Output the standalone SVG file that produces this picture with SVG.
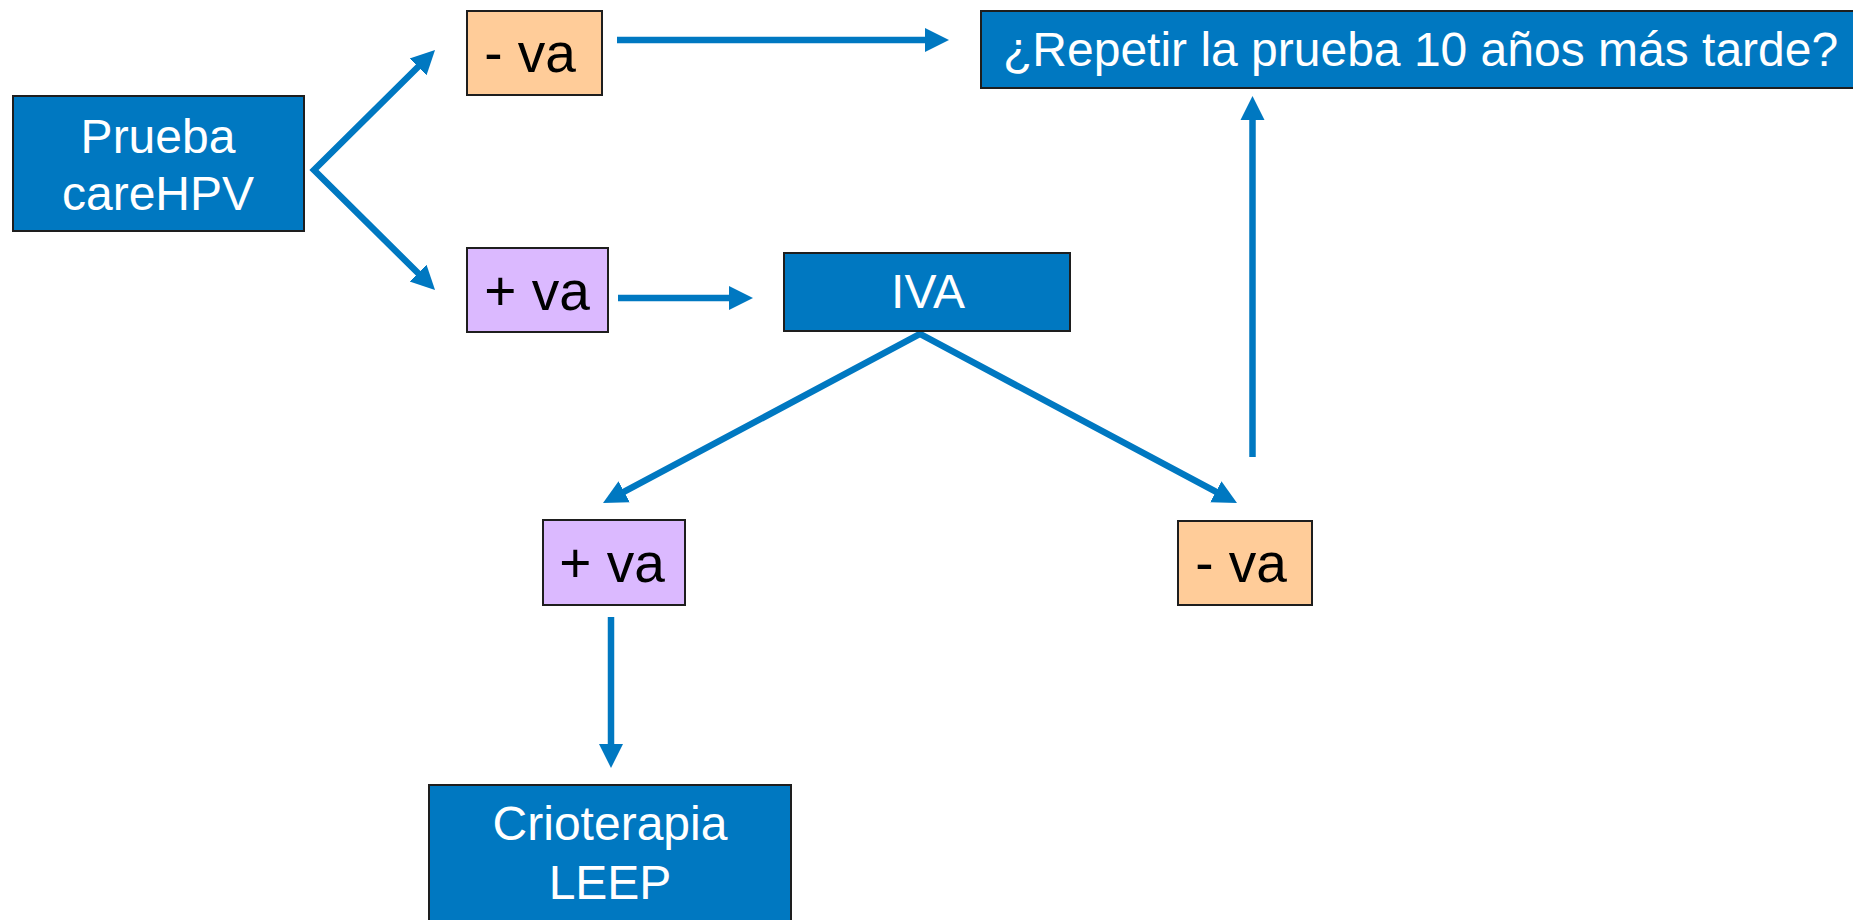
<svg xmlns="http://www.w3.org/2000/svg" width="1853" height="920" viewBox="0 0 1853 920">
  <style>
    .box { stroke: #1e1e1e; stroke-width: 2; }
    .blue { fill: #0078C1; }
    .neg { fill: #FFCC99; }
    .pos { fill: #DBB9FF; }
    .wt { font-family: "Liberation Sans", Arial, sans-serif; font-size: 48px; fill: #ffffff; text-anchor: middle; }
    .bt { font-family: "Liberation Sans", Arial, sans-serif; font-size: 55px; fill: #000000; text-anchor: middle; }
    .conn { fill: none; stroke: #0078C1; stroke-width: 6.5; stroke-linejoin: miter; stroke-miterlimit: 10; marker-end: url(#arr); }
  </style>
  <defs>
    <marker id="arr" markerUnits="userSpaceOnUse" markerWidth="26" markerHeight="26" refX="1" refY="12" orient="auto-start-reverse" viewBox="0 0 26 24">
      <path d="M0,0 L24,12 L0,24 z" fill="#0078C1"/>
    </marker>
  </defs>
  <rect width="1853" height="920" fill="#ffffff"/>

  <g id="connectors">
    <path class="conn" style="marker-start:url(#arr)" d="M418.7,66.2 L314,170 L418.7,273.8"/>
    <path class="conn" d="M617,40 L926,40"/>
    <path class="conn" d="M618,298 L730,298"/>
    <path class="conn" style="marker-start:url(#arr)" d="M623.3,492.2 L920,334 L1216.7,492.2"/>
    <path class="conn" d="M1252.5,457 L1252.5,119"/>
    <path class="conn" d="M611,617 L611,745"/>
  </g>

  <g id="prueba">
    <rect class="box blue" x="13" y="96" width="291" height="135"/>
    <text class="wt" x="158" y="153">Prueba</text>
    <text class="wt" x="158" y="210">careHPV</text>
  </g>

  <g id="neg1">
    <rect class="box neg" x="467" y="11" width="135" height="84"/>
    <text class="bt" x="530" y="72">- va</text>
  </g>

  <g id="repetir">
    <rect class="box blue" x="981" y="11" width="880" height="77"/>
    <text class="wt" x="1003" y="66" style="text-anchor:start">¿Repetir la prueba 10 años más tarde?</text>
  </g>

  <g id="pos1">
    <rect class="box pos" x="467" y="248" width="141" height="84"/>
    <text class="bt" x="537" y="310">+ va</text>
  </g>

  <g id="iva">
    <rect class="box blue" x="784" y="253" width="286" height="78"/>
    <text class="wt" x="928" y="308">IVA</text>
  </g>

  <g id="pos2">
    <rect class="box pos" x="543" y="520" width="142" height="85"/>
    <text class="bt" x="612" y="582">+ va</text>
  </g>

  <g id="neg2">
    <rect class="box neg" x="1178" y="521" width="134" height="84"/>
    <text class="bt" x="1241" y="582">- va</text>
  </g>

  <g id="crioterapia">
    <rect class="box blue" x="429" y="785" width="362" height="200"/>
    <text class="wt" x="610" y="840">Crioterapia</text>
    <text class="wt" x="610" y="899">LEEP</text>
  </g>
</svg>
